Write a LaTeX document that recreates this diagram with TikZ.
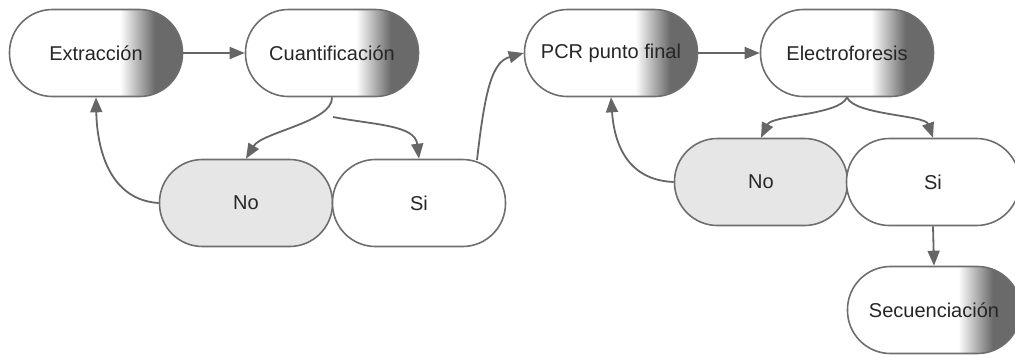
\documentclass[tikz,border=0pt]{standalone}
\usepackage{fontspec}
\setmainfont{Liberation Sans}
\usetikzlibrary{arrows.meta}
\definecolor{edgegray}{HTML}{6E6E6E}
\definecolor{arrowgray}{HTML}{666666}
\definecolor{capgray}{HTML}{6A6A6A}
\definecolor{nofill}{HTML}{E6E6E6}
\pgfdeclarehorizontalshading{capshade}{100bp}{color(0bp)=(white); color(57bp)=(white); color(67bp)=(capgray); color(100bp)=(capgray)}
\tikzset{
  box/.style={draw=edgegray, line width=1.6pt, rectangle, rounded corners=43pt,
    minimum width=173pt, minimum height=87pt, inner sep=0pt,
    font=\fontsize{20}{23}\selectfont, text=black!85},
  capbox/.style={box, shading=capshade},
  nobox/.style={box, fill=nofill},
  sibox/.style={box, fill=white},
  conn/.style={draw=arrowgray, line width=1.8pt, -{Triangle[length=15pt,width=12pt]}}
}
\begin{document}
\begin{tikzpicture}[x=1pt,y=-1pt]
\useasboundingbox (0,0) rectangle (1015,354);
\node[capbox] (ext) at (96,53) {Extracción};
\node[capbox] (cua) at (332,53) {Cuantificación};
\node[capbox] (pcr) at (611,53) {PCR punto final};
\node[capbox] (ele) at (847,53) {Electroforesis};
\node[nobox] (no1) at (246,203) {No};
\node[sibox] (si1) at (419,203) {Si};
\node[nobox] (no2) at (761,182) {No};
\node[sibox] (si2) at (933,182) {Si};
\node[capbox] (seq) at (934,310) {Secuenciación};
\coordinate (split1) at (333,117);
\draw[conn] (ext.east) -- (cua.west);
\draw[conn] (cua.south) .. controls (333,122) and (262,132) .. (no1.north);
\draw[conn] (split1) .. controls (375,125) and (415,125) .. (si1.north);
\draw[conn] (no1.west) .. controls (110,200) and (97,150) .. (ext.south);
\draw[conn] (477,160) .. controls (485,90) and (492,62) .. (pcr.west);
\draw[conn] (pcr.east) -- (ele.west);
\draw[conn] (ele.south) .. controls (840,115) and (772,115) .. (no2.north);
\draw[conn] (ele.south) .. controls (854,115) and (925,115) .. (si2.north);
\draw[conn] (no2.west) .. controls (625,180) and (614,140) .. (pcr.south);
\draw[conn] (si2.south) -- (seq.north);
\end{tikzpicture}
\end{document}
